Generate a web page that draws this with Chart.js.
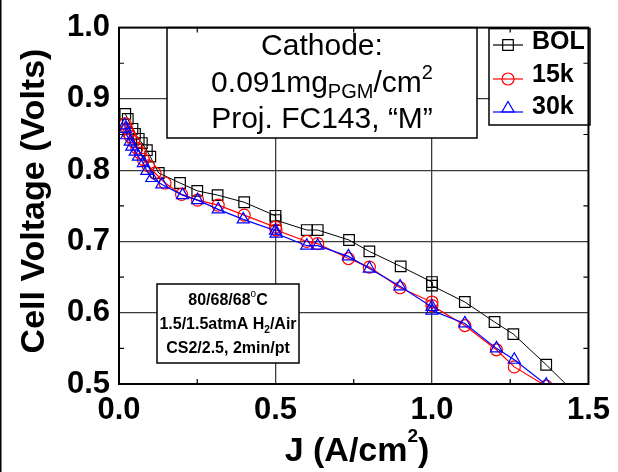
<!DOCTYPE html>
<html>
<head>
<meta charset="utf-8">
<style>
  html, body { margin: 0; padding: 0; background: #fff; }
</style>
<script src="https://cdn.jsdelivr.net/npm/chart.js@4.4.1/dist/chart.umd.min.js"></script>
</head>
<body>
<canvas id="fcChart" width="618" height="472"></canvas>
<script>
const FONT = '"Liberation Sans", Arial, Helvetica, sans-serif';

// current density (A/cm2) and cell voltage (V)
const bolJ = [0.02, 0.028, 0.043, 0.051, 0.063, 0.073, 0.089, 0.10, 0.127, 0.195, 0.25, 0.315, 0.40, 0.50, 0.50, 0.60, 0.635, 0.735, 0.80, 0.90, 1.00, 1.00, 1.105, 1.20, 1.26, 1.365, 1.46];
const bolV = [0.879, 0.872, 0.858, 0.851, 0.844, 0.838, 0.828, 0.819, 0.796, 0.782, 0.771, 0.765, 0.755, 0.736, 0.730, 0.716, 0.716, 0.702, 0.686, 0.665, 0.643, 0.638, 0.615, 0.587, 0.570, 0.527, 0.486];

const k15J = [0.02, 0.025, 0.031, 0.036, 0.047, 0.057, 0.068, 0.078, 0.094, 0.115, 0.147, 0.20, 0.251, 0.317, 0.40, 0.50, 0.502, 0.60, 0.635, 0.733, 0.80, 0.898, 1.00, 1.00, 1.105, 1.206, 1.263, 1.365];
const k15V = [0.865, 0.858, 0.852, 0.847, 0.840, 0.831, 0.824, 0.815, 0.806, 0.796, 0.782, 0.766, 0.758, 0.751, 0.737, 0.720, 0.716, 0.700, 0.697, 0.676, 0.664, 0.635, 0.615, 0.610, 0.582, 0.548, 0.524, 0.497];

const k30J = [0.018, 0.02, 0.025, 0.036, 0.041, 0.052, 0.062, 0.078, 0.089, 0.105, 0.137, 0.203, 0.251, 0.317, 0.397, 0.50, 0.502, 0.60, 0.635, 0.733, 0.80, 0.898, 1.00, 1.00, 1.105, 1.206, 1.263, 1.365];
const k30V = [0.863, 0.858, 0.849, 0.840, 0.833, 0.826, 0.819, 0.810, 0.799, 0.789, 0.780, 0.765, 0.758, 0.745, 0.731, 0.715, 0.711, 0.694, 0.694, 0.679, 0.662, 0.637, 0.608, 0.603, 0.585, 0.550, 0.534, 0.499];

const seriesNames = ['BOL', '15k', '30k'];
const xMinorTicks = [0.25, 0.75, 1.25];
const yMinorTicks = [0.55, 0.65, 0.75, 0.85, 0.95];

const toPoints = (xs, ys) => xs.map((x, i) => ({ x: x, y: ys[i] }));

// text made of runs: [text, size, dy, bold]
function richWidth(ctx, runs) {
  let w = 0;
  runs.forEach(r => {
    ctx.font = (r[3] ? 'bold ' : '') + r[1] + 'px ' + FONT;
    w += ctx.measureText(r[0]).width;
  });
  return w;
}

function drawRich(ctx, runs, cx, baseline) {
  let x = cx - richWidth(ctx, runs) / 2;
  ctx.textAlign = 'left';
  ctx.textBaseline = 'alphabetic';
  runs.forEach(r => {
    ctx.font = (r[3] ? 'bold ' : '') + r[1] + 'px ' + FONT;
    ctx.fillText(r[0], x, baseline + r[2]);
    x += ctx.measureText(r[0]).width;
  });
}

function whiteBox(ctx, l, t, r, b) {
  ctx.fillStyle = '#fff';
  ctx.fillRect(l, t, r - l, b - t);
  ctx.strokeStyle = '#000';
  ctx.lineWidth = 1.5;
  ctx.strokeRect(l, t, r - l, b - t);
}

const decorPlugin = {
  id: 'decor',
  beforeDatasetsDraw(chart) {
    const ctx = chart.ctx;
    const a = chart.chartArea;
    ctx.save();
    ctx.fillStyle = '#000';

    // cathode box
    whiteBox(ctx, 167, a.top, 477, 138);
    ctx.fillStyle = '#000';
    drawRich(ctx, [['Cathode:', 30, 0, false]], 322, 55);
    drawRich(ctx, [['0.091mg', 30, 0, false], ['PGM', 20, 6, false], ['/cm', 30, 0, false], ['2', 20, -13, false]], 322, 92);
    drawRich(ctx, [['Proj. FC143, \u201CM\u201D', 30, 0, false]], 322, 128);

    // conditions box
    whiteBox(ctx, 157, 284, 299, 363);
    ctx.fillStyle = '#000';
    drawRich(ctx, [['80/68/68', 16, 0, true], ['o', 10, -8, false], ['C', 16, 0, true]], 228, 305);
    drawRich(ctx, [['1.5/1.5atmA H', 16, 0, true], ['2', 10, 4, true], ['/Air', 16, 0, true]], 228, 329);
    drawRich(ctx, [['CS2/2.5, 2min/pt', 16, 0, true]], 228, 353);

    // legend box
    whiteBox(ctx, 489, a.top + 1, 590, 125);
    const colors = ['#000', '#ff0000', '#0000ff'];
    const styles = ['rect', 'circle', 'triangle'];
    const radii = [7.5, 6, 7];
    const rows = [45, 79, 112];
    const textRows = [42, 75, 107];
    seriesNames.forEach((name, i) => {
      ctx.strokeStyle = colors[i];
      ctx.lineWidth = 1.2;
      ctx.beginPath();
      ctx.moveTo(493, rows[i]);
      ctx.lineTo(523, rows[i]);
      ctx.stroke();
      const cy = styles[i] === 'triangle' ? rows[i] - 3.5 : rows[i];
      ctx.fillStyle = 'rgba(0,0,0,0)';
      Chart.helpers.drawPoint(ctx, { pointStyle: styles[i], radius: radii[i], borderWidth: 1.2 }, 508, cy);
      ctx.fillStyle = '#000';
      ctx.font = 'bold 25px ' + FONT;
      ctx.textAlign = 'left';
      ctx.textBaseline = 'middle';
      ctx.fillText(name, 532, textRows[i]);
    });
    ctx.restore();
  },
  afterDraw(chart) {
    const ctx = chart.ctx;
    const a = chart.chartArea;
    const xs = chart.scales.x;
    const ys = chart.scales.y;
    ctx.save();
    ctx.strokeStyle = '#000';
    ctx.lineWidth = 1.2;
    ctx.beginPath();
    xMinorTicks.forEach(v => {
      const px = xs.getPixelForValue(v);
      ctx.moveTo(px, a.bottom);
      ctx.lineTo(px, a.bottom - 5);
      ctx.moveTo(px, a.top);
      ctx.lineTo(px, a.top + 5);
    });
    yMinorTicks.forEach(v => {
      const py = ys.getPixelForValue(v);
      ctx.moveTo(a.left, py);
      ctx.lineTo(a.left + 5, py);
      ctx.moveTo(a.right, py);
      ctx.lineTo(a.right - 5, py);
    });
    ctx.stroke();

    // frame
    ctx.lineWidth = 2;
    ctx.strokeRect(a.left, a.top, a.right - a.left, a.bottom - a.top);

    // left edge line of the picture
    ctx.lineWidth = 1.5;
    ctx.beginPath();
    ctx.moveTo(0.75, 0);
    ctx.lineTo(0.75, chart.height);
    ctx.stroke();

    // axis titles
    ctx.fillStyle = '#000';
    drawRich(ctx, [['J (A/cm', 34, 0, true], ['2', 19, -19, true], [')', 34, 0, true]], 357, 461);
    ctx.translate(44, 201);
    ctx.rotate(-Math.PI / 2);
    drawRich(ctx, [['Cell Voltage (Volts)', 34, 0, true]], 0, 0);
    ctx.restore();
  }
};

const gridColor = ctx => {
  const v = ctx.tick ? ctx.tick.value : null;
  if (v === null) return 'rgba(0,0,0,0)';
  return ctx.scale.axis === 'x'
    ? ((v > 0.01 && v < 1.49) ? '#3c3c3c' : 'rgba(0,0,0,0)')
    : ((v > 0.51 && v < 0.99) ? '#3c3c3c' : 'rgba(0,0,0,0)');
};

new Chart(document.getElementById('fcChart').getContext('2d'), {
  type: 'scatter',
  data: {
    datasets: [
      {
        label: seriesNames[0],
        data: toPoints(bolJ, bolV),
        showLine: true,
        borderColor: '#000',
        borderWidth: 1,
        backgroundColor: 'rgba(0,0,0,0)',
        pointStyle: 'rect',
        pointRadius: 7.5,
        pointBorderWidth: 1.2,
        pointBorderColor: '#000',
        order: 3
      },
      {
        label: seriesNames[1],
        data: toPoints(k15J, k15V),
        showLine: true,
        borderColor: '#ff0000',
        borderWidth: 1.2,
        backgroundColor: 'rgba(0,0,0,0)',
        pointStyle: 'circle',
        pointRadius: 6,
        pointBorderWidth: 1.2,
        pointBorderColor: '#ff0000',
        order: 2
      },
      {
        label: seriesNames[2],
        data: toPoints(k30J, k30V),
        showLine: true,
        borderColor: '#0000ff',
        borderWidth: 1.2,
        backgroundColor: 'rgba(0,0,0,0)',
        pointStyle: 'triangle',
        pointRadius: 7,
        pointBorderWidth: 1.2,
        pointBorderColor: '#0000ff',
        order: 1
      }
    ]
  },
  options: {
    responsive: false,
    animation: false,
    devicePixelRatio: 1,
    layout: { padding: { left: 0, right: 26, top: 22, bottom: 0 } },
    plugins: {
      legend: { display: false },
      tooltip: { enabled: false }
    },
    scales: {
      x: {
        type: 'linear',
        min: 0,
        max: 1.5,
        ticks: {
          stepSize: 0.5,
          color: '#000',
          padding: 8,
          font: { family: FONT, size: 31, weight: 'bold' },
          callback: v => v.toFixed(1)
        },
        grid: { color: gridColor, lineWidth: 1.3, drawTicks: false },
        border: { display: false },
        afterFit: scale => { scale.height = 88; }
      },
      y: {
        type: 'linear',
        min: 0.5,
        max: 1.0,
        ticks: {
          stepSize: 0.1,
          color: '#000',
          padding: 9,
          font: { family: FONT, size: 31, weight: 'bold' },
          callback: v => v.toFixed(1)
        },
        grid: { color: gridColor, lineWidth: 1.3, drawTicks: false },
        border: { display: false },
        afterFit: scale => { scale.width = 119; }
      }
    }
  },
  plugins: [decorPlugin]
});
</script>
</body>
</html>
